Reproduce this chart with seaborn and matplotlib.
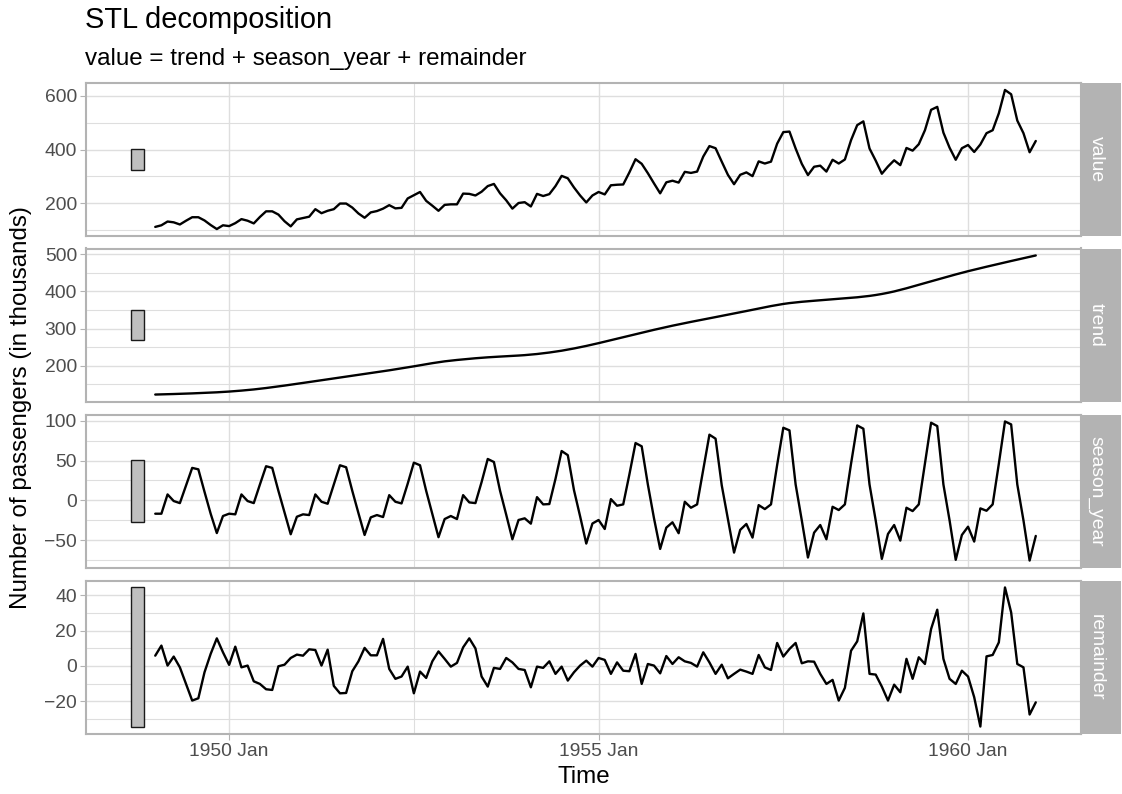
import numpy as np
import pandas as pd
import matplotlib
matplotlib.use("Agg")
import matplotlib.pyplot as plt
import seaborn as sns

# Monthly air passengers, 1949 Jan .. 1960 Dec (thousands)
value = [
    112, 118, 132, 129, 121, 135, 148, 148, 136, 119, 104, 118,
    115, 126, 141, 135, 125, 149, 170, 170, 158, 133, 114, 140,
    145, 150, 178, 163, 172, 178, 199, 199, 184, 162, 146, 166,
    171, 180, 193, 181, 183, 218, 230, 242, 209, 191, 172, 194,
    196, 196, 236, 235, 229, 243, 264, 272, 237, 211, 180, 201,
    204, 188, 235, 227, 234, 264, 302, 293, 259, 229, 203, 229,
    242, 233, 267, 269, 270, 315, 364, 347, 312, 274, 237, 278,
    284, 277, 317, 313, 318, 374, 413, 405, 355, 306, 271, 306,
    315, 301, 356, 348, 355, 422, 465, 467, 404, 347, 305, 336,
    340, 318, 362, 348, 363, 435, 491, 505, 404, 359, 310, 337,
    360, 342, 406, 396, 420, 472, 548, 559, 463, 407, 362, 405,
    417, 391, 419, 461, 472, 535, 622, 606, 508, 461, 390, 432,
]

trend = [
    123.0, 123.4, 123.9, 124.4, 124.9, 125.5, 126.1, 126.8, 127.5, 128.2, 129.0, 129.9,
    131.0, 132.2, 133.6, 135.1, 136.7, 138.5, 140.5, 142.6, 144.8, 147.1, 149.4, 151.8,
    154.2, 156.6, 159.0, 161.4, 163.8, 166.2, 168.6, 171.0, 173.4, 175.8, 178.2, 180.6,
    183.0, 185.5, 188.1, 190.7, 193.3, 196.0, 198.8, 201.7, 204.5, 207.3, 209.9, 212.2,
    214.2, 215.9, 217.5, 219.0, 220.5, 221.8, 223.0, 224.1, 225.0, 225.9, 226.8, 227.8,
    228.9, 230.3, 231.9, 233.8, 235.9, 238.2, 240.8, 243.7, 246.8, 250.1, 253.6, 257.3,
    261.1, 265.1, 269.1, 273.1, 277.1, 281.1, 285.1, 289.1, 293.0, 296.9, 300.7, 304.4,
    308.0, 311.5, 314.9, 318.2, 321.5, 324.7, 327.9, 331.1, 334.3, 337.5, 340.7, 344.0,
    347.4, 350.8, 354.2, 357.5, 360.7, 363.7, 366.4, 368.7, 370.6, 372.2, 373.7, 375.0,
    376.3, 377.6, 378.9, 380.2, 381.5, 382.9, 384.3, 386.0, 388.0, 390.4, 393.2, 396.4,
    400.0, 404.1, 408.5, 413.1, 417.8, 422.5, 427.2, 431.9, 436.6, 441.2, 445.7, 450.1,
    454.4, 458.5, 462.5, 466.4, 470.3, 474.2, 478.0, 481.8, 485.5, 489.3, 493.0, 496.7,
]

season_year = [
    -16.7, -16.7, 7.5, -0.8, -3.4, 18.7, 40.8, 39.0, 10.8, -16.7, -41.0, -19.6,
    -16.7, -17.5, 7.5, -0.8, -3.4, 20.0, 42.9, 40.8, 12.0, -15.0, -42.5, -20.5,
    -17.5, -18.4, 7.5, -1.7, -4.2, 20.0, 44.1, 41.6, 12.0, -16.0, -43.4, -21.3,
    -18.4, -20.9, 6.6, -1.7, -3.8, 21.0, 47.4, 44.1, 12.0, -17.0, -46.2, -23.4,
    -19.6, -23.4, 6.6, -2.5, -3.4, 23.0, 52.0, 48.2, 12.0, -18.0, -48.8, -24.6,
    -22.5, -29.2, 4.1, -5.0, -4.6, 27.0, 62.0, 56.8, 13.0, -20.0, -54.2, -29.0,
    -24.6, -35.9, 1.6, -6.7, -5.0, 32.5, 72.0, 67.9, 20.0, -22.5, -60.9, -34.2,
    -27.5, -41.2, -1.7, -9.2, -5.0, 38.7, 82.5, 77.5, 19.0, -23.0, -65.5, -37.0,
    -29.6, -46.7, -5.9, -10.9, -5.0, 44.5, 91.2, 87.9, 20.0, -25.0, -71.7, -40.5,
    -30.9, -48.8, -8.0, -12.1, -5.0, 46.0, 94.1, 90.0, 20.0, -25.0, -73.4, -42.1,
    -30.9, -50.5, -9.2, -13.4, -5.0, 46.0, 97.5, 93.3, 20.0, -25.0, -74.6, -43.4,
    -33.0, -51.7, -10.0, -13.0, -5.0, 46.0, 99.1, 95.4, 20.0, -25.0, -75.5, -44.6,
]

remainder = [
    5.8, 11.5, 0.2, 5.3, -0.8, -10.2, -19.6, -18.3, -3.6, 6.8, 15.6, 7.7,
    0.6, 10.9, -0.8, 0.2, -8.7, -10.2, -13.2, -13.6, -0.2, 0.7, 4.5, 6.4,
    5.8, 9.4, 9.0, 0.2, 9.2, -11.3, -15.5, -15.3, -3.0, 2.6, 10.2, 6.0,
    6.0, 15.3, -1.7, -7.3, -6.0, -0.4, -15.5, -3.2, -6.8, 2.6, 8.2, 4.0,
    -0.4, 1.7, 10.5, 15.6, 9.9, -6.0, -11.7, -1.1, -1.7, 4.5, 2.0, -1.7,
    -2.3, -12.1, -0.4, -1.1, 2.6, -4.5, -0.4, -8.3, -3.6, 0.2, 3.0, -0.4,
    4.5, 3.4, -4.5, 2.0, -2.7, -3.0, 6.8, -10.2, 1.1, 0.2, -4.2, 5.6,
    1.1, 4.9, 2.6, 1.7, -0.4, 7.7, 2.0, -4.5, 0.7, -7.0, -4.5, -2.1,
    -3.2, -4.5, 6.2, -0.8, -2.3, 13.0, 5.3, 9.6, 13.0, 1.5, 2.6, 2.4,
    -4.5, -10.2, -7.9, -19.6, -12.4, 8.6, 13.9, 29.7, -4.5, -4.9, -11.7, -19.6,
    -10.6, -14.9, 4.0, -7.3, 4.9, 1.1, 20.9, 31.8, 4.0, -7.3, -10.2, -2.7,
    -6.0, -17.7, -34.3, 5.4, 6.2, 13.3, 44.4, 30.3, 1.1, -0.8, -27.5, -20.6,
]

components = ["value", "trend", "season_year", "remainder"]
y_major = {
    "value": [200, 400, 600],
    "trend": [200, 300, 400, 500],
    "season_year": [-50, 0, 50, 100],
    "remainder": [-20, 0, 20, 40],
}
y_minor = {
    "value": [100, 300, 500],
    "trend": [150, 250, 350, 450],
    "season_year": [-75, -25, 25, 75],
    "remainder": [-30, -10, 10, 30],
}
x_tick_labels = ["1950 Jan", "1955 Jan", "1960 Jan"]
x_tick_months = [12, 72, 132]
x_minor_months = [42, 102]

df = pd.DataFrame({
    "idx": np.arange(len(value)),
    "value": value,
    "trend": trend,
    "season_year": season_year,
    "remainder": remainder,
})
long = df.melt(id_vars="idx", var_name="component", value_name="y")

sns.set_theme(style="white")
plt.rcParams["font.family"] = ["Liberation Sans", "DejaVu Sans"]

W, H = 1122, 794
fig = plt.figure(figsize=(W / 100, H / 100), dpi=100)

GRID = "#DEDEDE"
BORDER = "#B3B3B3"
TICKTXT = "#4D4D4D"

# panel geometry in pixels
left_px, right_px = 86, 1081
strip_w = 40
tops = [83, 248.5, 414.5, 580.5]
panel_h = 153

# the grey bar in each panel spans the smallest component range
ranges = {c: df[c].max() - df[c].min() for c in components}
bar_height = min(ranges.values())
bar_center, bar_width = -2.9, 2.0

x_lo = bar_center - bar_width / 2
x_hi = len(value) - 1
x_pad = 0.05 * (x_hi - x_lo)

def px_box(x0, y0, w, h):
    return [x0 / W, 1 - (y0 + h) / H, w / W, h / H]

for i, comp in enumerate(components):
    ax = fig.add_axes(px_box(left_px, tops[i], right_px - left_px, panel_h))
    sub = long[long["component"] == comp]
    sns.lineplot(data=sub, x="idx", y="y", color="black", linewidth=1.7,
                 ax=ax, legend=False, zorder=4)
    lo, hi = sub["y"].min(), sub["y"].max()
    mid = (lo + hi) / 2
    ax.bar([bar_center], [bar_height], bottom=mid - bar_height / 2,
           width=bar_width, color="#BFBFBF", edgecolor="#1A1A1A",
           linewidth=1.0, zorder=3)
    pad = 0.05 * (hi - lo)
    ax.set_ylim(lo - pad, hi + pad)
    ax.set_xlim(x_lo - x_pad, x_hi + x_pad)

    ax.set_yticks(y_major[comp])
    ax.set_yticks(y_minor[comp], minor=True)
    ax.set_xticks(x_tick_months)
    ax.set_xticks(x_minor_months, minor=True)
    ax.grid(which="major", color=GRID, linewidth=1.0, zorder=0)
    ax.grid(which="minor", color=GRID, linewidth=0.8, zorder=0)
    ax.set_axisbelow(True)

    for s in ax.spines.values():
        s.set_color(BORDER)
        s.set_linewidth(1.5)
        s.set_visible(True)
    ax.tick_params(axis="y", which="major", left=True, length=4, width=0.8,
                   color=BORDER, labelsize=13.9, labelcolor=TICKTXT, pad=2.5)
    ax.tick_params(which="minor", length=0)
    if i == len(components) - 1:
        ax.set_xticklabels(x_tick_labels)
        ax.tick_params(axis="x", which="major", bottom=True, length=4, width=0.8,
                       color=BORDER, labelsize=13.9, labelcolor=TICKTXT, pad=3)
    else:
        ax.tick_params(axis="x", which="major", bottom=False, labelbottom=False)
    ax.set_xlabel("")
    ax.set_ylabel("")

    # facet strip on the right
    sax = fig.add_axes(px_box(right_px, tops[i], strip_w, panel_h))
    sax.set_facecolor(BORDER)
    sax.set_xticks([])
    sax.set_yticks([])
    for s in sax.spines.values():
        s.set_visible(False)
    sax.text(0.38, 0.5, comp, rotation=270, ha="center", va="center",
             color="white", fontsize=13.9, transform=sax.transAxes)

fig.text(85 / W, 1 - 28.5 / H, "STL decomposition", fontsize=20.9,
         color="black", ha="left", va="baseline")
fig.text(85 / W, 1 - 65 / H, "value = trend + season_year + remainder",
         fontsize=17.4, color="black", ha="left", va="baseline")
fig.text(21 / W, 1 - 408 / H, "Number of passengers (in thousands)",
         fontsize=17.4, rotation=90, ha="center", va="center", color="black")
fig.text((left_px + right_px) / 2 / W, 1 - 783 / H, "Time", fontsize=17.4,
         ha="center", va="baseline", color="black")

fig.savefig("out.png", dpi=100, facecolor="white")
